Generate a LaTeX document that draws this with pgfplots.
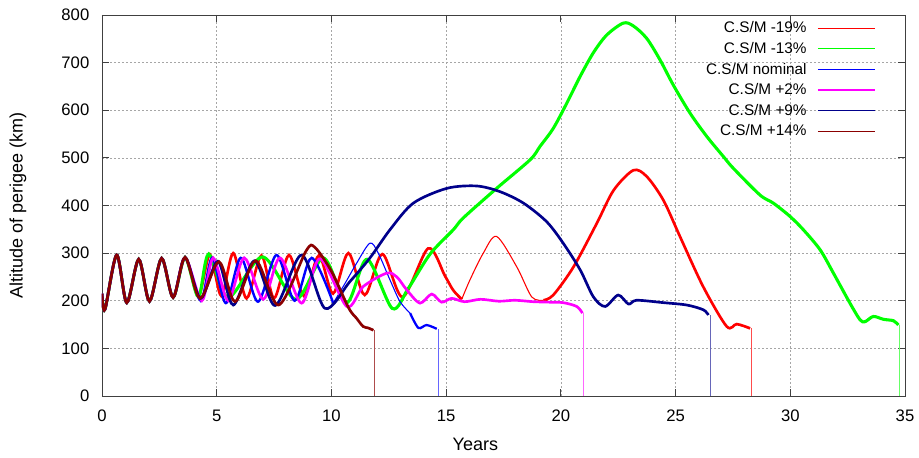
\documentclass[border=0pt]{standalone}
\usepackage{fontspec}
\setmainfont{Liberation Sans}
\usepackage{pgfplots}
\pgfplotsset{compat=1.18}
\definecolor{cred}{RGB}{255,0,0}
\definecolor{cgreen}{RGB}{0,255,0}
\definecolor{cblue}{RGB}{0,0,255}
\definecolor{cmag}{RGB}{255,0,255}
\definecolor{cnavy}{RGB}{0,0,139}
\definecolor{cdred}{RGB}{139,0,0}
\pgfplotsset{
  legend image code/.code={\draw[#1, line width=0.9pt] (0pt,0pt) -- (43pt,0pt);},
}
\begin{document}
\begin{tikzpicture}[font=\fontsize{11.5}{14}\selectfont]
\begin{axis}[name=ax, scale only axis, width=602.25pt, height=285.75pt,
 xmin=0, xmax=35, ymin=0, ymax=800,
 xtick={0,5,...,35}, ytick={0,100,...,800},
 grid=major,
 major grid style={black!35, dash pattern=on 1.5pt off 1.5pt, line width=0.5pt},
 axis line style={black!75, line width=0.7pt},
 tick style={black!75, line width=0.7pt}, major tick length=5pt,
 tick align=inside,
 /pgf/number format/assume math mode=true,
 ticklabel style={font=\fontsize{12.5}{15}\selectfont},
 label style={font=\fontsize{13.5}{16}\selectfont},
 xlabel={Years}, ylabel={Altitude of perigee (km)},
 xlabel style={at={(axis description cs:0.465,-0.126)}, anchor=center},
 ylabel style={at={(axis description cs:-0.1046,0.5)}, anchor=center},
 yticklabel style={xshift=-6pt},
 xticklabel style={yshift=-7pt},
 legend style={draw=none, fill=none, at={(0.969,0.997)}, anchor=north east,
   row sep=1.6pt, column sep=6pt},
 legend cell align=right, legend plot pos=right,
]
% ---- C.S/M -19% (red)
\addplot[color=cred, line width=2pt, smooth, tension=0.5] coordinates {
(0,215) (0.13,182) (0.64,296) (1.08,196) (1.6,287) (2.07,199) (2.6,289) (3.1,207) (3.62,291)
(4.2,210) (4.7,297) (5.2,210) (5.72,300) (6.3,205) (6.95,295) (7.5,205) (8.15,296) (8.8,210)
(9.45,295) (10.07,215) (10.74,300) (11.45,212) (12.22,298) (13.1,208) (14.22,310) (14.95,252)
(15.31,222) (15.68,203)};
\addlegendentry{C.S/M -19\%}
\addplot[forget plot, color=cred, line width=0.8pt, smooth, tension=0.5] coordinates {
(15.68,203) (16.04,244) (16.62,300) (17.2,335) (18.08,271) (18.73,208) (19.24,201)};
\addplot[forget plot, color=cred, line width=2pt, smooth, tension=0.5] coordinates {
(19.24,201) (19.67,212) (20.55,271) (21.56,362) (22.3,432) (23.16,474) (23.74,461) (24.47,411)
(25.2,334) (26.21,229) (27.23,146) (27.67,151) (28.25,142)};
\addplot[forget plot, color=cred!70, line width=0.6pt] coordinates {(28.29,142) (28.29,0)};
% ---- C.S/M -13% (green)
\addplot[color=cgreen, line width=2.3pt, smooth, tension=0.5] coordinates {
(0,215) (0.13,182) (0.64,296) (1.08,196) (1.6,287) (2.07,199) (2.6,289) (3.1,207) (3.62,291)
(4.2,208) (4.65,298) (5.5,207) (7.0,292) (8.45,203) (9.65,290) (10.67,196) (11.55,287) (12.65,184)
(13.35,226) (14.3,298) (15.31,349) (15.75,374) (17.2,436) (18.66,496) (19.09,524) (19.67,562)
(20.26,615) (20.84,671) (21.42,721) (22.0,758) (22.72,783) (23.16,777) (23.74,751) (24.32,706)
(24.9,653) (25.63,594) (26.36,545) (27.08,503) (27.52,478) (28.68,422) (29.26,405) (29.99,377)
(30.57,349) (31.3,307) (31.88,258) (32.6,195) (33.04,160) (33.26,156) (33.62,167) (34.06,161)
(34.5,158) (34.71,149)};
\addlegendentry{C.S/M -13\%}
\addplot[forget plot, color=cgreen!60, line width=0.6pt] coordinates {(34.76,149) (34.76,0)};
% ---- C.S/M nominal (blue)
\addplot[color=cblue, line width=1.8pt, smooth, tension=0.5] coordinates {
(0,215) (0.13,182) (0.64,296) (1.08,196) (1.6,287) (2.07,199) (2.6,289) (3.1,207) (3.62,291)
(4.3,200) (4.8,290) (5.4,195) (6.05,290) (6.8,198) (7.61,296) (8.4,200) (9.14,290) (10.08,195)};
\addlegendentry{C.S/M nominal}
\addplot[forget plot, color=cblue, line width=0.8pt, smooth, tension=0.5] coordinates {
(10.08,195) (10.6,237) (11.1,279) (11.68,321) (12.04,300) (12.55,244) (12.99,198) (13.43,174)};
\addplot[forget plot, color=cblue, line width=1.7pt, smooth, tension=0.5] coordinates {
(13.43,174) (13.79,143) (14.15,149) (14.59,141)};
\addplot[forget plot, color=cblue!60, line width=0.6pt] coordinates {(14.65,141) (14.65,0)};
% ---- C.S/M +2% (magenta)
\addplot[color=cmag, line width=2pt, smooth, tension=0.5] coordinates {
(0,215) (0.13,182) (0.64,296) (1.08,196) (1.6,287) (2.07,199) (2.6,289) (3.1,207) (3.62,291)
(4.35,200) (4.85,290) (5.5,200) (6.2,290) (7.03,203) (7.76,290) (8.7,195) (9.5,288) (10.67,188)
(11.39,230) (12.41,258) (12.85,250) (13.28,223) (13.86,195) (14.37,214) (14.8,197) (15.24,205)
(15.8,198) (16.5,203) (17.3,199) (18.0,201) (18.8,198) (19.5,197) (20.1,196) (20.69,188) (20.94,174)};
\addlegendentry{C.S/M +2\%}
\addplot[forget plot, color=cmag!60, line width=0.6pt] coordinates {(21.0,174) (21.0,0)};
% ---- C.S/M +9% (navy)
\addplot[color=cnavy, line width=2pt, smooth, tension=0.5] coordinates {
(0,215) (0.13,182) (0.64,296) (1.08,196) (1.6,287) (2.07,199) (2.6,289) (3.1,207) (3.62,291)
(4.3,205) (5.05,283) (5.72,191) (6.65,284) (7.55,190) (8.7,296) (9.72,184) (10.8,240) (11.68,290)
(12.55,349) (13.57,405) (15.03,436) (16.33,441) (17.35,429) (18.37,405) (19.38,366) (20.1,321)
(20.84,265) (21.42,208) (21.93,188) (22.5,212) (22.95,193) (23.3,201) (24.47,196) (25.49,191)
(26.21,181) (26.43,170)};
\addlegendentry{C.S/M +9\%}
\addplot[forget plot, color=cnavy!60, line width=0.6pt] coordinates {(26.5,170) (26.5,0)};
% ---- C.S/M +14% (dark red)
\addplot[color=cdred, line width=2pt, smooth, tension=0.5] coordinates {
(0,215) (0.13,182) (0.64,296) (1.08,196) (1.6,287) (2.07,199) (2.6,289) (3.1,207) (3.62,291)
(4.27,205) (5.1,282) (5.8,198) (6.7,284) (7.7,191) (8.9,305) (9.28,312) (10.0,262) (10.75,185)
(11.1,163) (11.38,146) (11.6,143) (11.83,138)};
\addlegendentry{C.S/M +14\%}
\addplot[forget plot, color=cdred!70, line width=0.6pt] coordinates {(11.86,138) (11.86,0)};
\end{axis}
\pgfresetboundingbox
\path ([shift={(-76.5pt,-46.5pt)}]ax.south west) rectangle ([shift={(10.5pt,11.25pt)}]ax.north east);
\end{tikzpicture}
\end{document}
